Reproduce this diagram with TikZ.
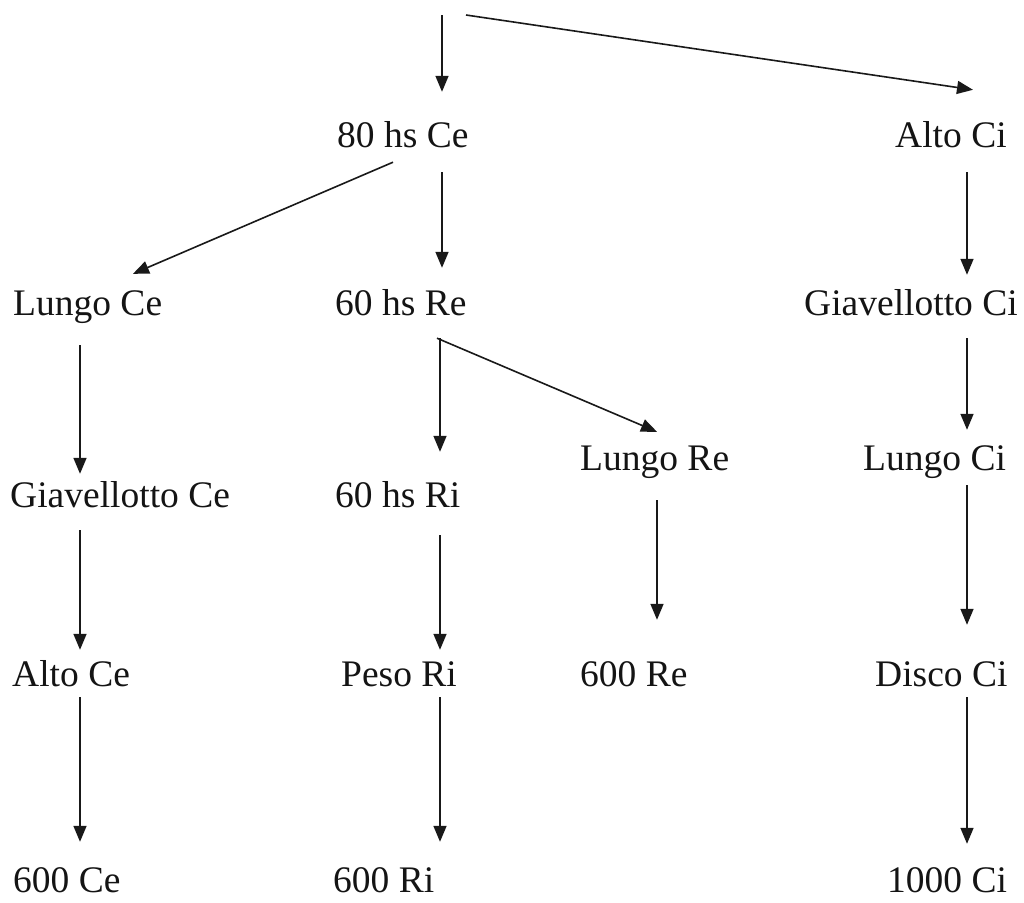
\documentclass[tikz,border=0pt]{standalone}
\usepackage{fontspec}
\setmainfont{Liberation Serif}
\usetikzlibrary{arrows.meta}
\begin{document}
\begin{tikzpicture}[x=1pt,y=-1pt,
  lbl/.style={inner sep=0pt, anchor=base west, text=black!92,
    font=\fontsize{37.5pt}{45pt}\selectfont, text height=25pt, text depth=8pt},
  arr/.style={draw=black!90, line width=1.6pt, -{Triangle[length=16pt,width=13pt]}}]
\fill[white] (0,0) rectangle (1024,902);
\useasboundingbox (0,0) rectangle (1024,902);
% column coordinates
\coordinate (cA) at (80,0);
\coordinate (cB) at (442,0);
\coordinate (cB2) at (440,0);
\coordinate (cC) at (657,0);
\coordinate (cD) at (967,0);
\coordinate (rootA) at (442,15);
\coordinate (rootB) at (466,15);
% nodes
\node[lbl] (n80) at (337,147) {80 hs Ce};
\node[lbl] (altoCi) at (895,147) {Alto Ci};
\node[lbl] (lungoCe) at (13,315) {Lungo Ce};
\node[lbl] (n60re) at (335,315) {60 hs Re};
\node[lbl] (giavCi) at (804,315) {Giavellotto Ci};
\node[lbl] (lungoRe) at (580,470) {Lungo Re};
\node[lbl] (lungoCi) at (863,470) {Lungo Ci};
\node[lbl] (giavCe) at (10,507) {Giavellotto Ce};
\node[lbl] (n60ri) at (335,507) {60 hs Ri};
\node[lbl] (altoCe) at (12,686) {Alto Ce};
\node[lbl] (pesoRi) at (341,686) {Peso Ri};
\node[lbl] (n600Re) at (580,686) {600 Re};
\node[lbl] (discoCi) at (875,686) {Disco Ci};
\node[lbl] (n600Ce) at (13,892) {600 Ce};
\node[lbl] (n600Ri) at (333,892) {600 Ri};
\node[lbl] (n1000Ci) at (887,892) {1000 Ci};
% connectors
\draw[arr, shorten >=30pt] (rootA) -- (n80.north -| rootA);
\draw[arr] (rootB) -- ([xshift=78pt,yshift=32pt]altoCi.north west);
\draw[arr] ([xshift=56pt,yshift=-7pt]n80.south west) -- ([xshift=120pt,yshift=16pt]lungoCe.north west);
\draw[arr, shorten <=17pt, shorten >=22pt] (n80.south -| cB) -- (n60re.north -| cB);
\draw[arr, shorten <=17pt, shorten >=15pt] (altoCi.south -| cD) -- (giavCi.north -| cD);
\draw[arr, shorten <=15pt, shorten >=30pt] (n60re.south -| cB2) -- (n60ri.north -| cB2);
\draw[arr] ([xshift=102pt,yshift=-15pt]n60re.south west) -- ([xshift=77pt,yshift=13pt]lungoRe.north west);
\draw[arr, shorten <=15pt, shorten >=15pt] (giavCi.south -| cD) -- (lungoCi.north -| cD);
\draw[arr, shorten <=22pt, shorten >=8pt] (lungoCe.south -| cA) -- (giavCe.north -| cA);
\draw[arr, shorten <=22pt, shorten >=41pt] (lungoRe.south -| cC) -- (n600Re.north -| cC);
\draw[arr, shorten <=7pt, shorten >=36pt] (lungoCi.south -| cD) -- (discoCi.north -| cD);
\draw[arr, shorten <=15pt, shorten >=11pt] (giavCe.south -| cA) -- (altoCe.north -| cA);
\draw[arr, shorten <=20pt, shorten >=11pt] (n60ri.south -| cB2) -- (pesoRi.north -| cB2);
\draw[arr, shorten <=3pt, shorten >=25pt] (altoCe.south -| cA) -- (n600Ce.north -| cA);
\draw[arr, shorten <=3pt, shorten >=25pt] (pesoRi.south -| cB2) -- (n600Ri.north -| cB2);
\draw[arr, shorten <=3pt, shorten >=23pt] (discoCi.south -| cD) -- (n1000Ci.north -| cD);
\end{tikzpicture}
\end{document}
